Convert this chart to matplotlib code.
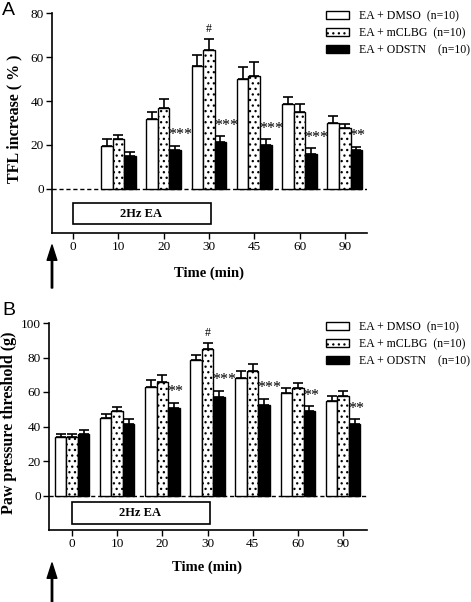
import matplotlib
matplotlib.use("Agg")
import matplotlib.pyplot as plt
from matplotlib.patches import Rectangle, Patch
import numpy as np

plt.rcParams["font.family"] = ["Liberation Serif", "DejaVu Serif"]
plt.rcParams["hatch.linewidth"] = 0.9

# time points (categorical)
times = ["0", "10", "20", "30", "45", "60", "90"]
groups = ["EA + DMSO  (n=10)", "EA + mCLBG  (n=10)", "EA + ODSTN    (n=10)"]

# panel A: TFL increase (%)
tfl_dmso = [0, 19.7, 32.0, 56.0, 49.9, 38.7, 30.2]
tfl_dmso_err = [0, 2.9, 3.2, 5.0, 5.5, 3.3, 2.9]
tfl_mclbg = [0, 22.6, 36.6, 63.3, 51.4, 35.2, 27.8]
tfl_mclbg_err = [0, 2.0, 4.2, 4.8, 6.3, 3.3, 1.8]
tfl_odstn = [0, 15.0, 17.5, 21.4, 19.9, 16.1, 17.5]
tfl_odstn_err = [0, 1.7, 2.1, 2.6, 2.7, 2.4, 1.6]
tfl_stars = ["", "", "***", "***", "***", "***", "**"]
tfl_hash = ["", "", "", "#", "", "", ""]

# panel B: paw pressure threshold (g)
paw_dmso = [34.0, 45.0, 63.1, 78.3, 68.0, 59.2, 55.0]
paw_dmso_err = [1.9, 2.5, 3.9, 2.9, 3.9, 2.9, 2.9]
paw_mclbg = [34.0, 48.9, 66.0, 85.0, 72.2, 62.1, 57.9]
paw_mclbg_err = [1.9, 2.5, 3.9, 3.3, 3.9, 2.9, 2.9]
paw_odstn = [35.9, 41.2, 50.5, 57.3, 52.2, 49.1, 41.2]
paw_odstn_err = [2.3, 2.9, 3.3, 3.3, 3.7, 2.7, 2.9]
paw_stars = ["", "", "**", "***", "***", "**", "**"]
paw_hash = ["", "", "", "#", "", "", ""]

W, H = 471, 602
fig = plt.figure(figsize=(W / 100, H / 100), dpi=100)


def px_axes(left, right, top, bottom):
    return fig.add_axes([left / W, 1 - bottom / H, (right - left) / W, (bottom - top) / H])


def panel(ax, series, errs, stars, hashes, ymax, ystep, box, xl):
    w = 0.255
    x = np.arange(len(times))
    styles = [dict(color="white", hatch=None), dict(color="white", hatch="..."),
              dict(color="black", hatch=None)]
    for k, (vals, err, st) in enumerate(zip(series, errs, styles)):
        vals = np.array(vals, float)
        err = np.array(err, float)
        m = vals > 0
        xs = x[m] + (k - 1) * w
        ax.bar(xs, vals[m], w, color=st["color"], hatch=st["hatch"],
               edgecolor="black", linewidth=1, zorder=3)
        ax.errorbar(xs, vals[m], yerr=[np.zeros(m.sum()), err[m]], fmt="none",
                    ecolor="black", elinewidth=1.2, capsize=3.5, capthick=1.2, zorder=2)
    top_odstn = np.array(series[2]) + np.array(errs[2])
    top_mclbg = np.array(series[1]) + np.array(errs[1])
    for i in range(len(times)):
        if stars[i]:
            ax.text(x[i] + w / 2 - 0.02, top_odstn[i] + ymax * 0.015, stars[i],
                    ha="left", va="bottom", fontsize=11.5, zorder=4)
        if hashes[i]:
            ax.text(x[i], top_mclbg[i] + ymax * 0.025, hashes[i],
                    ha="center", va="bottom", fontsize=8.5, zorder=4)

    ax.axhline(0, color="black", lw=1, ls=(0, (3, 2)), zorder=1)
    ax.add_patch(Rectangle((0, box[0]), 3.05, box[1] - box[0], fill=False,
                           edgecolor="black", lw=1.2))
    ax.text(1.5, (box[0] + box[1]) / 2, "2Hz EA", ha="center", va="center",
            fontsize=9, fontweight="bold")

    ax.set_xlim(*xl)
    ax.set_ylim(-20, ymax)
    ax.set_yticks(np.arange(0, ymax + 1, ystep))
    ax.set_xticks(x)
    ax.set_xticklabels(times)
    ax.tick_params(axis="both", direction="out", length=4, width=1, labelsize=9.5, pad=2)
    for s in ["top", "right"]:
        ax.spines[s].set_visible(False)
    for s in ["left", "bottom"]:
        ax.spines[s].set_linewidth(1.2)


axA = px_axes(52, 367, 13, 233)
panel(axA, [tfl_dmso, tfl_mclbg, tfl_odstn],
      [tfl_dmso_err, tfl_mclbg_err, tfl_odstn_err], tfl_stars, tfl_hash,
      80, 20, (-16, -6.4), (-0.464, 6.49))

axB = px_axes(49, 367, 323, 530)
panel(axB, [paw_dmso, paw_mclbg, paw_odstn],
      [paw_dmso_err, paw_mclbg_err, paw_odstn_err], paw_stars, paw_hash,
      100, 20, (-16.3, -4), (-0.51, 6.53))

handles = [Patch(facecolor="white", edgecolor="black", lw=1),
           Patch(facecolor="white", edgecolor="black", hatch="...", lw=1),
           Patch(facecolor="black", edgecolor="black", lw=1)]
for ytop in (2, 313):
    fig.legend(handles, groups, loc="upper left",
               bbox_to_anchor=(318 / W, 1 - ytop / H), frameon=False,
               fontsize=8.5, handlelength=1.9, handleheight=0.6,
               handletextpad=0.9, labelspacing=0.42, borderpad=0.2)

# axis labels
fig.text(14 / W, 1 - 119 / H, "TFL increase ( % )", rotation=90, ha="center",
         va="center", fontsize=11.5, fontweight="bold")
fig.text(9 / W, 1 - 423 / H, "Paw pressure threshold (g)", rotation=90,
         ha="center", va="center", fontsize=11.5, fontweight="bold")
fig.text(209 / W, 1 - 273 / H, "Time (min)", ha="center", va="center",
         fontsize=10.5, fontweight="bold")
fig.text(207 / W, 1 - 567 / H, "Time (min)", ha="center", va="center",
         fontsize=10.5, fontweight="bold")

# panel letters
fig.text(2 / W, 1 - 2 / H, "A", ha="left", va="top", fontsize=14,
         family=["Liberation Sans", "DejaVu Sans"])
fig.text(2 / W, 1 - 302 / H, "B", ha="left", va="top", fontsize=14,
         family=["Liberation Sans", "DejaVu Sans"])

# injection arrows
arrow = dict(facecolor="black", edgecolor="black", width=1, headwidth=7, headlength=11)
fig.axes[0].annotate("", xy=(52, H - 245), xytext=(52, H - 288),
                     xycoords="figure pixels", textcoords="figure pixels",
                     arrowprops=arrow, annotation_clip=False)
fig.axes[1].annotate("", xy=(52, H - 563), xytext=(52, 0),
                     xycoords="figure pixels", textcoords="figure pixels",
                     arrowprops=arrow, annotation_clip=False)

fig.savefig("out.png", dpi=100)
